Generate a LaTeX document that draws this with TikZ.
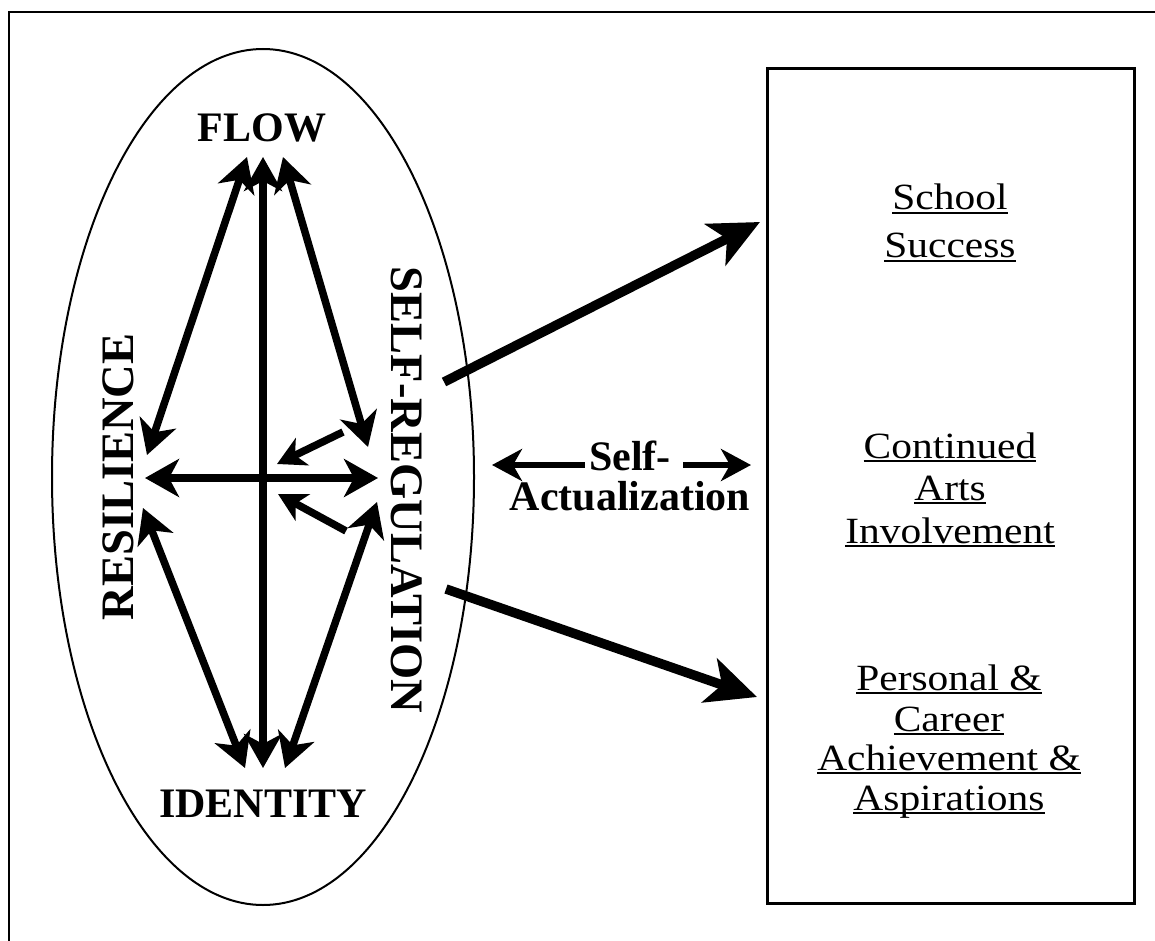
\documentclass[tikz,border=0pt]{standalone}
\usepackage{fontspec}
\setmainfont{Liberation Serif}
\newfontfamily\widefont{Liberation Serif}[FakeStretch=1.12]
\usetikzlibrary{arrows.meta,shapes.geometric}
\newcommand\myul[1]{\setbox0\hbox{#1}\rlap{\rule[-0.12em]{\wd0}{0.06em}}\box0}
\begin{document}
\begin{tikzpicture}[x=1pt,y=-1pt,
  lbl/.style={font=\fontsize{42}{48}\selectfont\bfseries, inner sep=0pt},
  vlbl/.style={font=\fontsize{46.5}{52}\selectfont\bfseries, inner sep=0pt},
  rtext/.style={font=\widefont\fontsize{37}{44}\selectfont, inner sep=0pt, anchor=base},
  satext/.style={font=\fontsize{42}{48}\selectfont\bfseries, inner sep=0pt, anchor=base},
  dbl/.style={line width=7.5pt, {Stealth[length=34pt,width=38pt,inset=10pt]}-{Stealth[length=34pt,width=38pt,inset=10pt]}},
  sgl/.style={line width=7.5pt, -{Stealth[length=28pt,width=30pt,inset=8pt]}},
  big/.style={line width=9.5pt, -{Stealth[length=50pt,width=46pt,inset=13pt]}},
  med/.style={line width=6pt, -{Stealth[length=30pt,width=32pt,inset=9pt]}}]
\useasboundingbox (0,0) rectangle (1155,941);
\fill[white] (0,0) rectangle (1155,941);
% outer frame (top and left visible)
\draw[line width=2.5pt] (1155,12) -- (9,12) -- (9,941);
% ellipse and box
\node[ellipse, draw, line width=2pt, minimum width=422pt, minimum height=856pt, inner sep=0pt] (ell) at (263,477) {};
\node[draw, line width=3pt, minimum width=367pt, minimum height=834pt, inner sep=0pt] (box) at (950.5,486) {};
% labels
\node[lbl] (flow) at (262,128) {FLOW};
\node[lbl] (ident) at (263,804) {IDENTITY};
\node[vlbl, rotate=90] (res) at (118,477) {RESILIENCE};
\node[vlbl, rotate=-90] (selfreg) at (407,490) {SELF-REGULATION};
% arrow end points
\coordinate (fL) at (247,157);
\coordinate (fC) at (263,157);
\coordinate (fR) at (283,157);
\coordinate (iL) at (245,768);
\coordinate (iC) at (263,768);
\coordinate (iR) at (285,768);
\coordinate (rU) at (147,455);
\coordinate (rM) at (145,478);
\coordinate (rD) at (143,508);
\coordinate (sU) at (368,447);
\coordinate (sM) at (378,478);
\coordinate (sD) at (377,502);
\coordinate (a1s) at (343,432);
\coordinate (a1e) at (277,464);
\coordinate (a2s) at (346,531);
\coordinate (a2e) at (278,494);
% inner arrows
\draw[dbl] (fC) -- (iC);
\draw[dbl] (fL) -- (rU);
\draw[dbl] (fR) -- (sU);
\draw[dbl] (rM) -- (sM);
\draw[dbl] (rD) -- (iL);
\draw[dbl] (sD) -- (iR);
\draw[sgl] (a1s) -- (a1e);
\draw[sgl] (a2s) -- (a2e);
% big outgoing arrows
\coordinate (b1s) at (444,382);
\coordinate (b1e) at (760,222);
\coordinate (b2s) at (446,589);
\coordinate (b2e) at (757,697);
\draw[big] (b1s) -- (b1e);
\draw[big] (b2s) -- (b2e);
% self-actualization
\node[satext] (self) at (630,470) {Self-};
\node[satext] (actual) at (630,510) {Actualization};
\coordinate (saL) at (492,465);
\coordinate (saR) at (751,465);
\draw[med] (self.west |- saL) ++(-4,0) coordinate (saLs) -- (saL);
\draw[med] (self.east |- saR) ++(12,0) coordinate (saRs) -- (saR);
% right texts
\node[rtext] (t1) at (950,210) {\myul{School}};
\node[rtext] (t2) at (950,258) {\myul{Success}};
\node[rtext] (t3) at (950,458) {\myul{Continued}};
\node[rtext] (t4) at (950,500) {\myul{Arts}};
\node[rtext] (t5) at (950,543) {\myul{Involvement}};
\node[rtext] (t6) at (949,690) {\myul{Personal \&}};
\node[rtext] (t7) at (949,731) {\myul{Career}};
\node[rtext] (t8) at (949,770) {\myul{Achievement \&}};
\node[rtext] (t9) at (949,810) {\myul{Aspirations}};
\end{tikzpicture}
\end{document}
